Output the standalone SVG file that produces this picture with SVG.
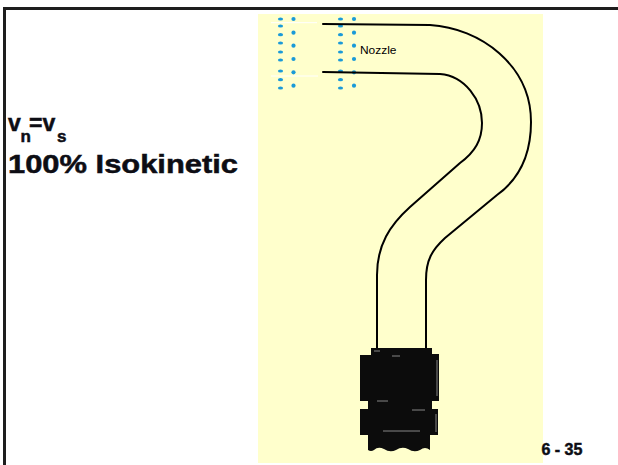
<svg xmlns="http://www.w3.org/2000/svg" width="618" height="465" viewBox="0 0 618 465">
  <style>
    .border { stroke: #1e1e1e; stroke-width: 3; fill: none; }
    .wall { stroke: #000; stroke-width: 2; fill: none; stroke-linecap: round; stroke-linejoin: round; }
    .dash { fill: #1a9ad8; }
    .title { font-family: "Liberation Sans", Arial, sans-serif; font-weight: bold; fill: #0d0d14; stroke: #0d0d14; stroke-width: 0.5; }
    .label { font-family: "Liberation Sans", Arial, sans-serif; fill: #000; }
    .speck { stroke: #fff; stroke-width: 1; opacity: 0.5; }
  </style>
  <defs>
    <ellipse id="dash" class="dash" rx="2.6" ry="1.6"/>
    <circle id="dot" class="dash" r="2.1"/>
  </defs>

  <!-- slide background and frame -->
  <rect x="0" y="0" width="618" height="465" fill="#ffffff"/>
  <g id="frame">
    <line class="border" x1="3" y1="8.5" x2="618" y2="8.5"/>
    <line class="border" x1="4.5" y1="7" x2="4.5" y2="465"/>
  </g>

  <!-- pale yellow picture panel -->
  <rect id="panel" x="258" y="14" width="285" height="449" fill="#ffffcc"/>

  <!-- streamlines entering the nozzle -->
  <g id="flow">
    <line x1="271" y1="22.7" x2="317" y2="22.7" stroke="#ffffff" stroke-width="1"/>
    <line x1="271" y1="76" x2="318" y2="76" stroke="#ffffff" stroke-width="1"/>
    <g id="col1">
      <use href="#dash" x="280.5" y="19"/><use href="#dash" x="280.5" y="26"/>
      <use href="#dash" x="280.5" y="34.7"/><use href="#dash" x="280.5" y="43"/>
      <use href="#dash" x="280.5" y="52"/><use href="#dash" x="280.5" y="60"/>
      <use href="#dash" x="280.5" y="71"/><use href="#dash" x="280.5" y="79.7"/>
      <use href="#dash" x="280.5" y="88"/>
    </g>
    <g id="col2">
      <use href="#dot" x="293.5" y="19"/><use href="#dot" x="293.5" y="32.7"/>
      <use href="#dot" x="293.5" y="45.7"/><use href="#dot" x="293.5" y="59"/>
      <use href="#dot" x="293.5" y="72.3"/><use href="#dot" x="293.5" y="85.7"/>
    </g>
    <g id="col3">
      <use href="#dash" x="340.5" y="19"/><use href="#dash" x="340.5" y="26"/>
      <use href="#dash" x="340.5" y="34.7"/><use href="#dash" x="340.5" y="43"/>
      <use href="#dash" x="340.5" y="52"/><use href="#dash" x="340.5" y="60"/>
      <use href="#dash" x="340.5" y="71"/><use href="#dash" x="340.5" y="79.7"/>
      <use href="#dash" x="340.5" y="88"/>
    </g>
    <g id="col4">
      <use href="#dot" x="354" y="19"/><use href="#dot" x="354" y="32.7"/>
      <use href="#dot" x="354" y="45.7"/><use href="#dot" x="354" y="59"/>
      <use href="#dot" x="354" y="72.3"/><use href="#dot" x="354" y="85.7"/>
    </g>
  </g>

  <!-- sampling probe: nozzle bending down into the collector -->
  <g id="probe">
    <path class="wall" d="M 323 24 L 430 25 C 480 28, 531 65, 531 122 C 531 160, 515 182, 497 195 L 445 238 C 432 250, 426 260, 426 280 L 426 350"/>
    <path class="wall" d="M 323 72 L 440 74 C 465 76, 482 100, 482 123 C 482 140, 475 152, 460 163 L 410 207 C 390 225, 377 245, 377 275 L 377 350"/>
  </g>

  <!-- collector body at the probe outlet -->
  <g id="collector">
    <path fill="#0c0c0c" d="M 371 348 L 432 348 L 432 354 L 439 354 L 439 401 L 432 401 L 432 409 L 438 409 L 438 435 L 430 435 L 430 450
      Q 425 446 420 450 Q 414 453 408 449 Q 402 446 396 450 Q 390 453 384 449 Q 378 446 374 450 Q 371 452 368 450
      L 368 435 L 360 435 L 360 409 L 368 409 L 368 401 L 360 401 L 360 355 L 371 355 Z"/>
    <g class="speck">
      <line x1="374" y1="351" x2="380" y2="351"/>
      <line x1="392" y1="356" x2="400" y2="356"/>
      <line x1="377" y1="401" x2="388" y2="401"/>
      <line x1="412" y1="410" x2="425" y2="410"/>
      <line x1="383" y1="431" x2="420" y2="431"/>
      <line x1="437" y1="360" x2="437" y2="396"/>
      <line x1="436" y1="414" x2="436" y2="432"/>
    </g>
  </g>

  <!-- captions -->
  <g id="labels">
    <text class="label" x="360" y="53.5" font-size="11" textLength="36.5" lengthAdjust="spacingAndGlyphs">Nozzle</text>
    <text class="title" y="131" font-size="23"><tspan x="8">v</tspan><tspan x="20.5" y="141.5" font-size="17">n</tspan><tspan x="29" y="131">=v</tspan><tspan x="57" y="141.5" font-size="17">s</tspan></text>
    <text class="title" x="8" y="173" font-size="26" textLength="230" lengthAdjust="spacingAndGlyphs">100% Isokinetic</text>
    <text class="title" x="541.5" y="455" font-size="16" stroke-width="0.3">6 - 35</text>
  </g>
</svg>
